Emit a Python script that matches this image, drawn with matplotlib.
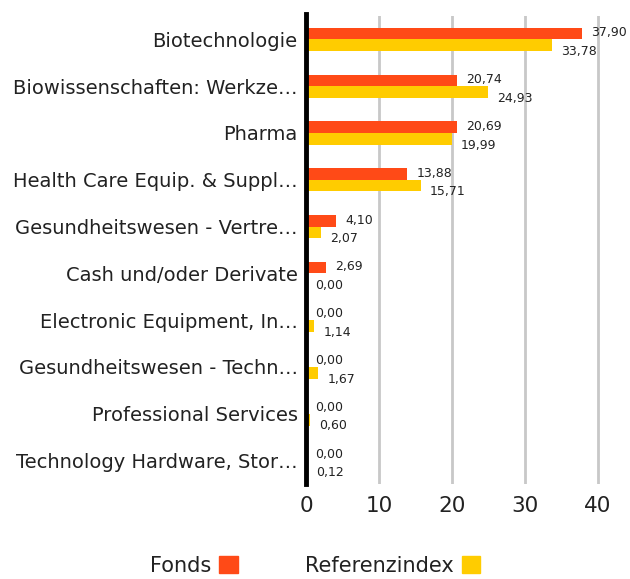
"""Sector allocation: Fonds vs Referenzindex (horizontal grouped bars)."""

import matplotlib
matplotlib.use("Agg")
import matplotlib.pyplot as plt
from matplotlib.patches import Patch

categories = [
    "Biotechnologie",
    "Biowissenschaften: Werkze…",
    "Pharma",
    "Health Care Equip. & Suppl…",
    "Gesundheitswesen - Vertre…",
    "Cash und/oder Derivate",
    "Electronic Equipment, In…",
    "Gesundheitswesen - Techn…",
    "Professional Services",
    "Technology Hardware, Stor…",
]
fonds = [37.90, 20.74, 20.69, 13.88, 4.10, 2.69, 0.00, 0.00, 0.00, 0.00]
referenz = [33.78, 24.93, 19.99, 15.71, 2.07, 0.00, 1.14, 1.67, 0.60, 0.12]
series_names = ["Fonds", "Referenzindex"]
xticks = [0, 10, 20, 30, 40]

ORANGE = "#ff4a17"
YELLOW = "#ffcc00"
TEXT = "#222222"

plt.rcParams["font.family"] = ["DejaVu Sans"]

W, H = 630, 579
fig = plt.figure(figsize=(W / 100, H / 100), dpi=100)
ax = fig.add_axes([306 / W, (H - 484) / H, (W - 306) / W, (484 - 16) / H])

n = len(categories)
ys = list(range(n))
bh = 0.25
y_f = [y - bh / 2 for y in ys]
y_r = [y + bh / 2 for y in ys]

ax.barh(y_f, fonds, height=bh, color=ORANGE, zorder=3)
ax.barh(y_r, referenz, height=bh, color=YELLOW, zorder=3)

fmt = lambda v: f"{v:.2f}".replace(".", ",")
for y, v in zip(y_f, fonds):
    ax.annotate(fmt(v), (v, y), xytext=(6.5, 0.5), textcoords="offset points",
                ha="left", va="center", fontsize=9, color=TEXT)
for y, v in zip(y_r, referenz):
    ax.annotate(fmt(v), (v, y), xytext=(6.5, -4.5), textcoords="offset points",
                ha="left", va="center", fontsize=9, color=TEXT)

ax.set_ylim(n - 0.5, -0.5)
ax.set_xlim(0, 324 / 7.29)
ax.set_yticks(ys)
ax.set_yticklabels(categories, fontsize=14, color=TEXT)
ax.set_xticks(xticks)
ax.set_xticklabels([str(t) for t in xticks], fontsize=15.5, color=TEXT)
ax.tick_params(axis="both", length=0)
ax.tick_params(axis="y", pad=6)
ax.tick_params(axis="x", pad=8.5)

ax.grid(axis="x", color="#c8c8c8", linewidth=2, zorder=0)
for s in ["top", "right", "bottom"]:
    ax.spines[s].set_visible(False)
ax.spines["left"].set_linewidth(3.5)
ax.spines["left"].set_color("black")
ax.spines["left"].set_zorder(4)
ax.spines["left"].set_bounds(n - 0.5, -0.55)

handles = [Patch(color=ORANGE), Patch(color=YELLOW)]
fig.legend(handles, series_names, loc="center", bbox_to_anchor=(315 / W, 1 - 566 / H),
           ncol=2, frameon=False, markerfirst=False, fontsize=15,
           handlelength=0.9, handleheight=0.9, handletextpad=0.4, columnspacing=3.2,
           labelcolor=TEXT)

fig.savefig("out.png", dpi=100)
